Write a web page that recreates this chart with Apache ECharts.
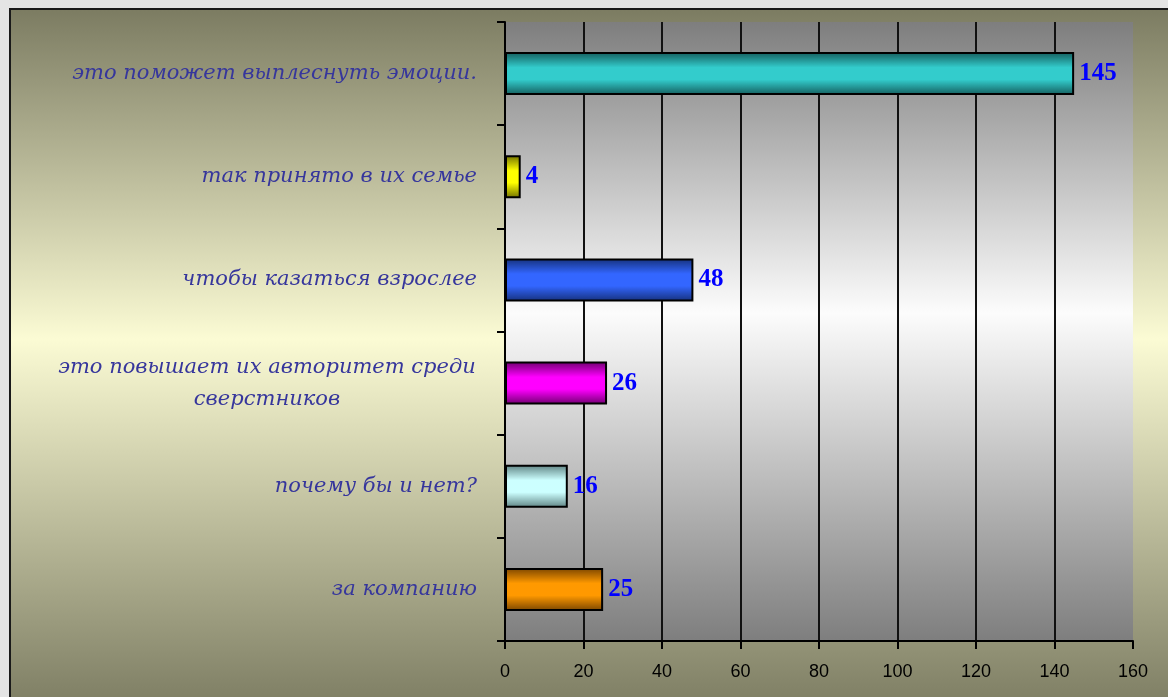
<!DOCTYPE html>
<html>
<head>
<meta charset="utf-8">
<script src="https://cdn.jsdelivr.net/npm/echarts@6/dist/echarts.min.js"></script>
<style>
  html, body { margin: 0; padding: 0; background: #e4e4e4; overflow: hidden; width: 1168px; height: 697px; }
  #c { position: absolute; left: 9px; top: 8px; width: 1170px; height: 700px; border: 2px solid #1a1a1a; }
</style>
</head>
<body>
<div id="c"></div>
<script>
// Categories listed bottom-to-top (ECharts category axis starts at the bottom)
const categories = [
  'за компанию',
  'почему бы и нет?',
  'это повышает их авторитет среди\nсверстников',
  'чтобы казаться взрослее',
  'так принято в их семье',
  'это поможет выплеснуть эмоции.'
];
const values = [25, 16, 26, 48, 4, 145];
const barColors = ['#ff9900', '#ccffff', '#ff00ff', '#3366ff', '#ffff00', '#33cccc'];
const barEdges  = ['#7a4500', '#5e8282', '#6e006e', '#15307a', '#6e6e00', '#145c5c'];
const xTicks = [0, 20, 40, 60, 80, 100, 120, 140, 160];

const chart = echarts.init(document.getElementById('c'), null, { renderer: 'canvas' });

function grad(base, edge) {
  return new echarts.graphic.LinearGradient(0, 0, 0, 1, [
    { offset: 0, color: edge },
    { offset: 0.36, color: base },
    { offset: 0.64, color: base },
    { offset: 1, color: edge }
  ]);
}

const labelFont = 'DejaVu Serif, serif';
const labelColor = '#36369c';

const option = {
  animation: false,
  backgroundColor: new echarts.graphic.LinearGradient(0, 0, 0, 1, [
    { offset: 0, color: '#7c7c62' },
    { offset: 0.47, color: '#fbfbd4' },
    { offset: 1, color: '#7c7c62' }
  ]),
  grid: {
    left: 494, top: 12, width: 628, height: 619,
    show: true,
    borderWidth: 0,
    backgroundColor: new echarts.graphic.LinearGradient(0, 0, 0, 1, [
      { offset: 0, color: '#7e7e7e' },
      { offset: 0.47, color: '#fcfcfc' },
      { offset: 1, color: '#7e7e7e' }
    ])
  },
  xAxis: {
    type: 'value',
    min: xTicks[0],
    max: xTicks[xTicks.length - 1],
    interval: 20,
    axisLine: { show: true, lineStyle: { color: '#000', width: 2 } },
    axisTick: { show: true, length: 8, lineStyle: { color: '#000', width: 2 } },
    axisLabel: {
      margin: 22,
      color: '#000',
      fontSize: 18,
      fontFamily: 'Liberation Sans, Arial, sans-serif'
    },
    splitLine: { show: true, showMinLine: false, showMaxLine: false, lineStyle: { color: '#111', width: 2 } }
  },
  yAxis: {
    type: 'category',
    data: categories,
    axisLine: { show: true, lineStyle: { color: '#000', width: 2 } },
    axisTick: { show: true, length: 8, lineStyle: { color: '#000', width: 2 } },
    axisLabel: {
      margin: 28,
      color: labelColor,
      fontSize: 21,
      fontStyle: 'italic',
      fontFamily: labelFont,
      formatter: function (v) {
        if (v.indexOf('\n') >= 0) {
          return v.split('\n').map(function (s) { return '{c|' + s + '}'; }).join('\n');
        }
        return v;
      },
      rich: {
        c: {
          width: 420,
          align: 'center',
          lineHeight: 32,
          color: labelColor,
          fontSize: 21,
          fontStyle: 'italic',
          fontFamily: labelFont
        }
      }
    },
    splitLine: { show: false }
  },
  series: [{
    type: 'bar',
    data: values.map(function (v, i) {
      return {
        value: v,
        itemStyle: { color: grad(barColors[i], barEdges[i]) }
      };
    }),
    barWidth: 43,
    itemStyle: { borderColor: '#000', borderWidth: 2 },
    label: {
      show: true,
      position: 'right',
      distance: 5,
      color: '#0000ff',
      fontSize: 25,
      fontWeight: 'bold',
      fontFamily: 'Liberation Serif, Times New Roman, serif'
    }
  }]
};

chart.setOption(option);
</script>
</body>
</html>
